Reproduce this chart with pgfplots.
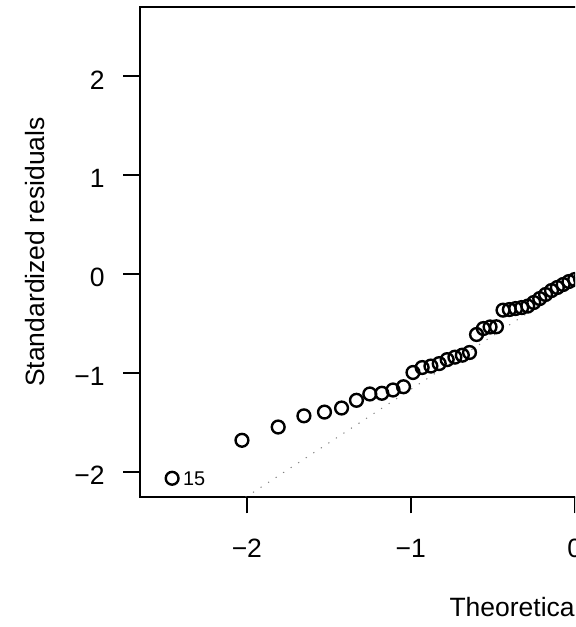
\documentclass[border=0pt]{standalone}
\usepackage{pgfplots}
\pgfplotsset{compat=1.18}
\usepackage{fontspec}
\setmainfont{Liberation Sans}
\newcommand{\rfont}{\fontsize{13.25}{16}\selectfont}

\begin{document}
\begin{tikzpicture}
\path[use as bounding box] (0,0) rectangle (287.5pt,313.5pt);
\clip (0,0) rectangle (287.5pt,313.5pt);
\begin{axis}[
  at={(70pt,65.15pt)}, anchor=south west,
  scale only axis, width=434.7pt, height=244.7pt,
  xmin=-2.652, xmax=2.652, ymin=-2.247, ymax=2.698,
  axis line style={line width=1pt},
  tick pos=left, tick align=outside,
  major tick length=8.3pt,
  every tick/.style={black, line width=1pt},
  xtick={-2,-1,0,1,2}, xticklabels={−2,−1,0,1,2},
  ytick={-2,-1,0,1,2}, yticklabels={−2,−1,0,1,2},
  tick label style={font=\rfont},
  xticklabel style={anchor=base, inner sep=0pt, yshift=-22pt},
  yticklabel style={anchor=east, inner sep=0pt, xshift=-9.2pt, yshift=-1.7pt},
  xlabel={Theoretical Quantiles},
  ylabel={Standardized residuals},
  xlabel style={font=\rfont, at={([yshift=-60pt]axis description cs:0.5,0)}, anchor=base, inner sep=0pt},
  ylabel style={font=\rfont, at={([xshift=-47.7pt]axis description cs:0,0.5)}, anchor=base, rotate=0, inner sep=0pt},
]
% qq reference line (dotted, grey)
\addplot[gray, line width=0.5pt, dash pattern=on 0.6pt off 3.9pt] coordinates {(-2.652,-2.950) (2.652,2.790)};
% standardized residuals
\addplot[only marks, mark=o, mark size=3.2pt, mark options={line width=1.2pt, black}] table {
x y
-2.4560 -2.061
-2.0300 -1.677
-1.8090 -1.543
-1.6520 -1.430
-1.5265 -1.392
-1.4223 -1.351
-1.3315 -1.273
-1.2500 -1.209
-1.1764 -1.202
-1.1086 -1.169
-1.0446 -1.136
-0.9865 -0.992
-0.9307 -0.942
-0.8774 -0.927
-0.8266 -0.902
-0.7781 -0.862
-0.7310 -0.837
-0.6856 -0.817
-0.6417 -0.790
-0.5988 -0.608
-0.5571 -0.548
-0.5163 -0.532
-0.4775 -0.530
-0.4372 -0.362
-0.3987 -0.356
-0.3607 -0.346
-0.3233 -0.336
-0.2865 -0.321
-0.2497 -0.285
-0.2135 -0.245
-0.1775 -0.204
-0.1417 -0.164
-0.1060 -0.133
-0.0706 -0.103
-0.0353 -0.073
0.0000 -0.053
0.0353 -0.045
};
% label of the extreme point
\addplot[draw=none, mark=none, nodes near coords={15},
  every node near coord/.style={anchor=west, inner sep=0pt, xshift=5.3pt, font=\fontsize{9.94}{12}\selectfont}]
  coordinates {(-2.456,-2.061)};
\end{axis}
\end{tikzpicture}
\end{document}
